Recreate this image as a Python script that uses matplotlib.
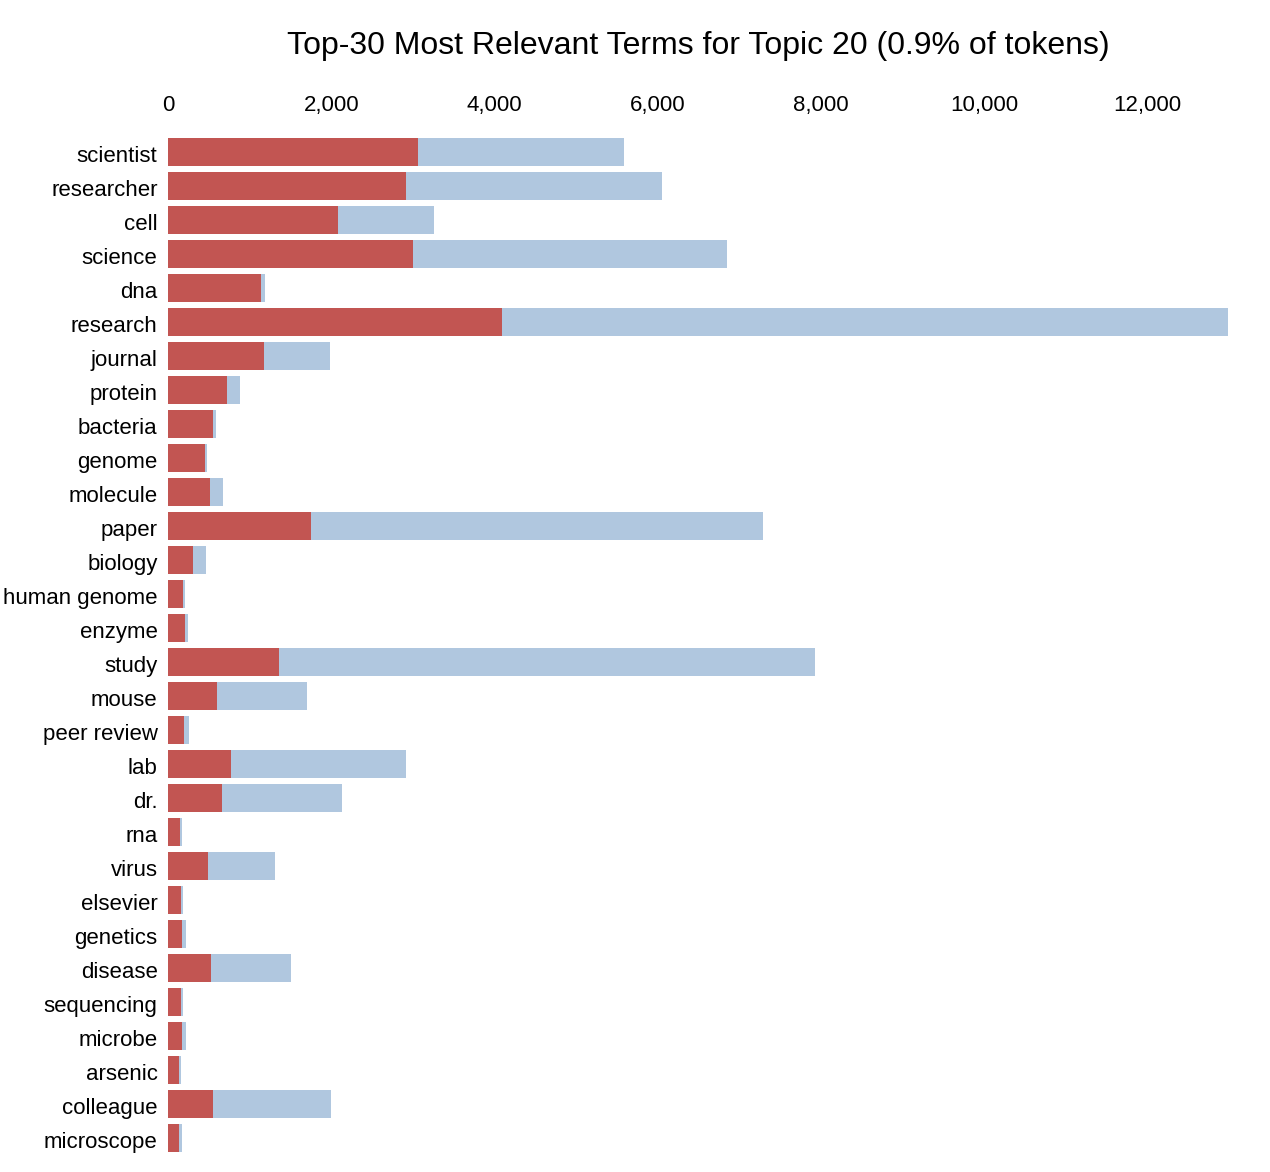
"""
Top-30 most relevant terms for one topic, LDAvis style bar chart.
"""

import matplotlib.pyplot as plt
import matplotlib.transforms as mtransforms
from matplotlib.ticker import FuncFormatter

plt.rcParams["font.family"] = ["Liberation Sans", "DejaVu Sans"]

terms = [
    "scientist", "researcher", "cell", "science", "dna", "research",
    "journal", "protein", "bacteria", "genome", "molecule", "paper",
    "biology", "human genome", "enzyme", "study", "mouse", "peer review",
    "lab", "dr.", "rna", "virus", "elsevier", "genetics", "disease",
    "sequencing", "microbe", "arsenic", "colleague", "microscope",
]

# overall term frequency in the corpus
overall_freq = [
    5592, 6054, 3264, 6854, 1193, 12990,
    1989, 878, 585, 478, 670, 7292,
    466, 205, 241, 7929, 1707, 253,
    2920, 2132, 168, 1307, 180, 217, 1512,
    180, 221, 156, 1993, 172,
]

# estimated term frequency within the selected topic
topic_freq = [
    3067, 2917, 2083, 2999, 1143, 4093,
    1180, 723, 551, 457, 515, 1752,
    306, 180, 205, 1356, 597, 200,
    772, 658, 151, 490, 159, 172, 523,
    159, 172, 135, 548, 135,
]

title = "Top-30 Most Relevant Terms for Topic 20 (0.9% of tokens)"

W, H = 1270, 1172
fig = plt.figure(figsize=(W / 100, H / 100), dpi=100)

x_max = 13000
ax_left, ax_right = 168, 168 + x_max * 0.0816
ax_top, ax_bottom = 135, 1155
ax = fig.add_axes([
    ax_left / W,
    1 - ax_bottom / H,
    (ax_right - ax_left) / W,
    (ax_bottom - ax_top) / H,
])

rows = range(len(terms))
ax.barh(rows, overall_freq, height=0.82, color="#b0c7df", linewidth=0)
ax.barh(rows, topic_freq, height=0.82, color="#c25552", linewidth=0)

ax.set_xlim(0, x_max)
ax.set_ylim(len(terms) - 0.5, -0.5)
ax.set_yticks(list(rows))
ax.set_yticklabels(terms)
ax.set_xticks([0, 2000, 4000, 6000, 8000, 10000, 12000])
ax.xaxis.set_major_formatter(FuncFormatter(lambda v, _: f"{int(v):,}"))
ax.xaxis.tick_top()
ax.tick_params(axis="x", length=0, pad=14, labelsize=16)
ax.tick_params(axis="y", length=0, pad=7.5, labelsize=16)

# nudge term labels down a little, as in the original
shift = mtransforms.ScaledTranslation(0, -2 / 100, fig.dpi_scale_trans)
for lbl in ax.get_yticklabels():
    lbl.set_transform(lbl.get_transform() + shift)

for spine in ax.spines.values():
    spine.set_visible(False)

fig.text((ax_left + ax_right) / 2 / W, 1 - 46 / H, title,
         ha="center", va="center", fontsize=23)

fig.savefig("out.png", dpi=100, facecolor="white")
